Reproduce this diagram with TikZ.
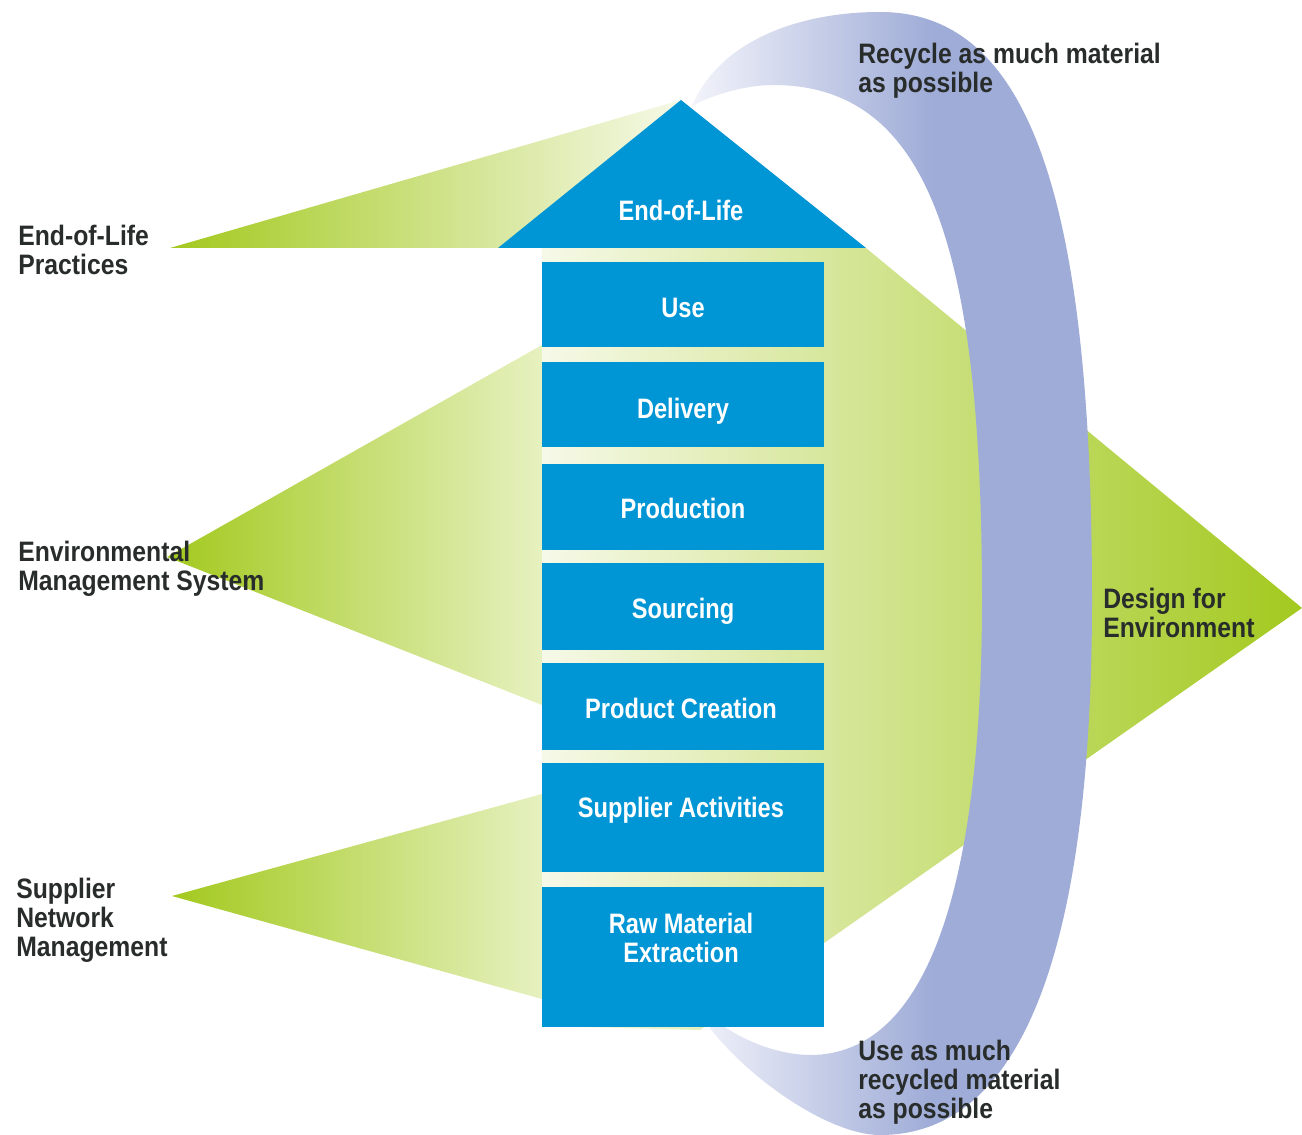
\documentclass[tikz,border=0pt]{standalone}
\usepackage{fontspec}
\newfontfamily\boxfont{Liberation Sans}[FakeStretch=0.84]
\newfontfamily\sidefont{Liberation Sans}[FakeStretch=0.88]
\definecolor{boxblue}{RGB}{0,150,214}
\definecolor{leafgreen}{RGB}{163,201,30}
\definecolor{palegreen}{RGB}{230,241,192}
\definecolor{palestgreen}{RGB}{246,249,232}
\definecolor{bandpurple}{RGB}{159,172,215}
\definecolor{bandpale}{RGB}{242,243,250}
\definecolor{inkgray}{RGB}{40,45,44}
\pgfdeclarehorizontalshading{bandshade}{100bp}{color(0bp)=(bandpale); color(25bp)=(bandpale); color(55bp)=(bandpurple); color(100bp)=(bandpurple)}
\tikzset{
  stagebox/.style={fill=boxblue, draw=none, anchor=north west, inner sep=0pt, minimum width=5.64cm},
  boxlabel/.style={font=\boxfont\bfseries\fontsize{16}{16.5}\selectfont, text=white, inner sep=0pt, anchor=north, align=center},
  sidelabel/.style={font=\sidefont\bfseries\fontsize{16}{16.5}\selectfont, text=inkgray, inner sep=0pt, anchor=north west, align=left},
  greenfan/.style={left color=leafgreen, right color=palegreen},
}
\begin{document}
\begin{tikzpicture}[x=0.02cm, y=-0.02cm]
\useasboundingbox (0,0) rectangle (1302,1135);
\fill[white] (0,0) rectangle (1302,1135);

% green fans on the left
\shade[left color=leafgreen, right color=palestgreen] (170,248) -- (681,100) -- (681,248) -- cycle;
\shade[greenfan] (167,557) -- (542,345) -- (542,705) -- cycle;
\shade[greenfan] (172,896) -- (542,794) -- (542,999) -- cycle;

% design for environment fan
\shade[left color=palestgreen, right color=leafgreen] (542,248) -- (866,248) -- (1302,608) -- (700,1030) -- (542,1026) -- cycle;

% recycling band
\shade[shading=bandshade] (692,106) .. controls (720,40) and (800,12) .. (880,12)
  .. controls (1030,12) and (1092,200) .. (1092,600)
  .. controls (1092,900) and (1040,1135) .. (880,1135)
  .. controls (830,1135) and (750,1080) .. (710,1028)
  -- (715,1018) -- (722,1025)
  .. controls (750,1045) and (785,1055) .. (810,1055)
  .. controls (930,1055) and (982,880) .. (982,600)
  .. controls (982,250) and (930,85) .. (773,85)
  .. controls (745,85) and (712,95) .. (692,106) -- cycle;

% stages
\fill[boxblue] (498,248) -- (681,100) -- (866,248) -- cycle;
\node[stagebox, minimum height=1.70cm] (use) at (542,262) {};
\node[stagebox, minimum height=1.70cm] (delivery) at (542,362) {};
\node[stagebox, minimum height=1.72cm] (production) at (542,464) {};
\node[stagebox, minimum height=1.74cm] (sourcing) at (542,563) {};
\node[stagebox, minimum height=1.74cm] (creation) at (542,663) {};
\node[stagebox, minimum height=2.18cm] (supplier) at (542,763) {};
\node[stagebox, minimum height=2.80cm] (raw) at (542,887) {};

\node[boxlabel] (eolL) at (681,200) {End-of-Life};
\node[boxlabel] (useL) at (683,298) {Use};
\node[boxlabel] (deliveryL) at (683,398) {Delivery};
\node[boxlabel] (productionL) at (683,498) {Production};
\node[boxlabel] (sourcingL) at (683,598) {Sourcing};
\node[boxlabel] (creationL) at (681,698) {Product Creation};
\node[boxlabel] (supplierL) at (681,797) {Supplier Activities};
\node[boxlabel] (rawL) at (681,913) {Raw Material\\Extraction};

% side labels
\node[sidelabel] (eolP) at (18,225) {End-of-Life\\Practices};
\node[sidelabel] (ems) at (18,541) {Environmental\\Management System};
\node[sidelabel] (snm) at (16,878) {Supplier\\Network\\Management};
\node[sidelabel] (recycle) at (858,43) {Recycle as much material\\as possible};
\node[sidelabel] (dfe) at (1103,588) {Design for\\Environment};
\node[sidelabel] (reuse) at (858,1040) {Use as much\\recycled material\\as possible};
\end{tikzpicture}
\end{document}
